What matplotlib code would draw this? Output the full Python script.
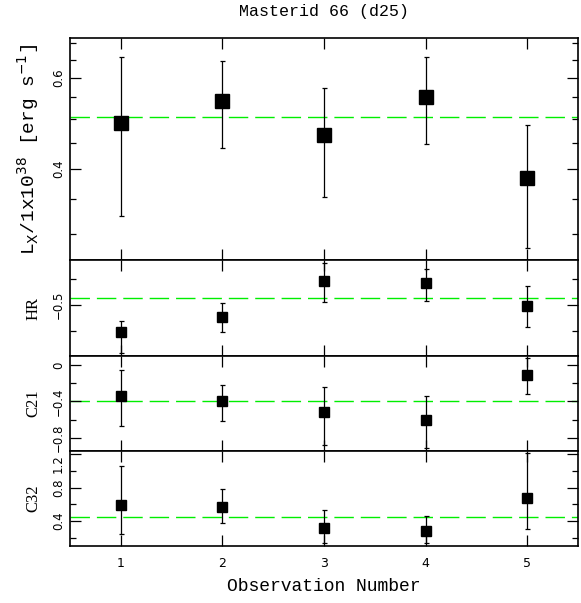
import numpy as np
import matplotlib
matplotlib.use('Agg')
import matplotlib.pyplot as plt
import matplotlib.ticker as ticker

# Данные
obs = [1, 2, 3, 4, 5]

lx = [0.491, 0.542, 0.465, 0.551, 0.384]
lx_hi = [0.659, 0.647, 0.574, 0.657, 0.486]
lx_lo = [0.324, 0.4385, 0.353, 0.447, 0.281]
lx_mean = 0.503

hr = [-0.606, -0.548, -0.408, -0.416, -0.504]
hr_hi = [-0.562, -0.493, -0.338, -0.360, -0.425]
hr_lo = [-0.686, -0.605, -0.489, -0.483, -0.587]
hr_mean = -0.474

c21 = [-0.337, -0.396, -0.513, -0.604, -0.113]
c21_hi = [-0.055, -0.216, -0.242, -0.337, 0.074]
c21_lo = [-0.667, -0.615, -0.879, -0.908, -0.322]
c21_mean = -0.396

c32 = [0.591, 0.571, 0.316, 0.284, 0.670]
c32_hi = [1.057, 0.782, 0.534, 0.460, 1.210]
c32_lo = [0.241, 0.380, 0.133, 0.136, 0.300]
c32_mean = 0.444

title = 'Masterid 66 (d25)'
mono = 'Liberation Mono'
serif = 'Liberation Serif'

fig = plt.figure(figsize=(5.81, 6.03), dpi=100)

L, W = 70 / 581, 508 / 581
def box(top, bot):
    return [L, 1 - bot / 603, W, (bot - top) / 603]

ax1 = fig.add_axes(box(38, 260))
ax2 = fig.add_axes(box(260, 356))
ax3 = fig.add_axes(box(356, 451))
ax4 = fig.add_axes(box(451, 546))

panels = [
    (ax1, lx, lx_hi, lx_lo, lx_mean, 10.5),
    (ax2, hr, hr_hi, hr_lo, hr_mean, 7.5),
    (ax3, c21, c21_hi, c21_lo, c21_mean, 7.5),
    (ax4, c32, c32_hi, c32_lo, c32_mean, 7.5),
]

for ax, y, hi, lo, mean, ms in panels:
    y = np.array(y)
    yerr = [y - np.array(lo), np.array(hi) - y]
    ax.axhline(mean, color='#00ee00', lw=1.0, dashes=(14, 5), zorder=1)
    ax.errorbar(obs, y, yerr=yerr, fmt='s', color='black', ms=ms,
                elinewidth=0.9, capsize=1.8, capthick=0.9, zorder=3)
    ax.set_xlim(0.5, 5.5)
    ax.set_xticks(obs)
    ax.tick_params(axis='both', which='both', direction='in', top=True, right=True)
    ax.tick_params(axis='x', which='major', length=8, width=0.9)
    ax.tick_params(axis='y', which='major', length=8, width=0.9, labelsize=8.5,
                   labelrotation=90)
    ax.tick_params(axis='y', which='minor', length=4.5, width=0.9)
    for s in ax.spines.values():
        s.set_linewidth(1.2)
    if ax is not ax4:
        ax.tick_params(axis='x', labelbottom=False)

# верхняя панель, логарифмическая шкала
ax1.set_yscale('log')
ax1.set_ylim(0.267, 0.716)
ax1.yaxis.set_major_locator(ticker.FixedLocator([0.4, 0.6]))
ax1.yaxis.set_major_formatter(ticker.FixedFormatter(['0.4', '0.6']))
ax1.yaxis.set_minor_locator(ticker.FixedLocator([0.3, 0.35, 0.45, 0.5, 0.55, 0.65, 0.7]))
ax1.yaxis.set_minor_formatter(ticker.NullFormatter())
ax1.set_ylabel(r'L$_{\rm X}$/1x10$^{38}$ [erg s$^{-1}$]', family=mono, fontsize=14, labelpad=8)

ax2.set_ylim(-0.698, -0.325)
ax2.set_yticks([-0.5])
ax2.set_yticklabels(['\u22120.5'])
ax2.set_yticks([-0.6, -0.4], minor=True)
ax2.set_ylabel('HR', family=serif, fontsize=12, labelpad=8)

ax3.set_ylim(-0.945, 0.099)
ax3.set_yticks([-0.8, -0.4, 0])
ax3.set_yticklabels(['\u22120.8', '\u22120.4', '0'])
ax3.set_yticks([-0.6, -0.2], minor=True)
ax3.set_ylabel('C21', family=serif, fontsize=12, labelpad=8)

ax4.set_ylim(0.1015, 1.236)
ax4.set_yticks([0.4, 0.8, 1.2])
ax4.set_yticklabels(['0.4', '0.8', '1.2'])
ax4.set_yticks([0.2, 0.6, 1.0], minor=True)
ax4.set_ylabel('C32', family=serif, fontsize=12, labelpad=8)
ax4.tick_params(axis='x', labelsize=9, pad=8)
ax4.set_xlabel('Observation Number', family=mono, fontsize=13, labelpad=6)

for ax in (ax1, ax2, ax3, ax4):
    for t in ax.get_yticklabels():
        t.set_va('center')
# верхняя метка C32 не должна наезжать на соседнюю панель
ax4.get_yticklabels()[-1].set_va('top')

fig.suptitle(title, family=mono, fontsize=12, x=(70 + 578) / 2 / 581, y=1 - 4 / 603, va='top')

fig.savefig('out.png', dpi=100)
